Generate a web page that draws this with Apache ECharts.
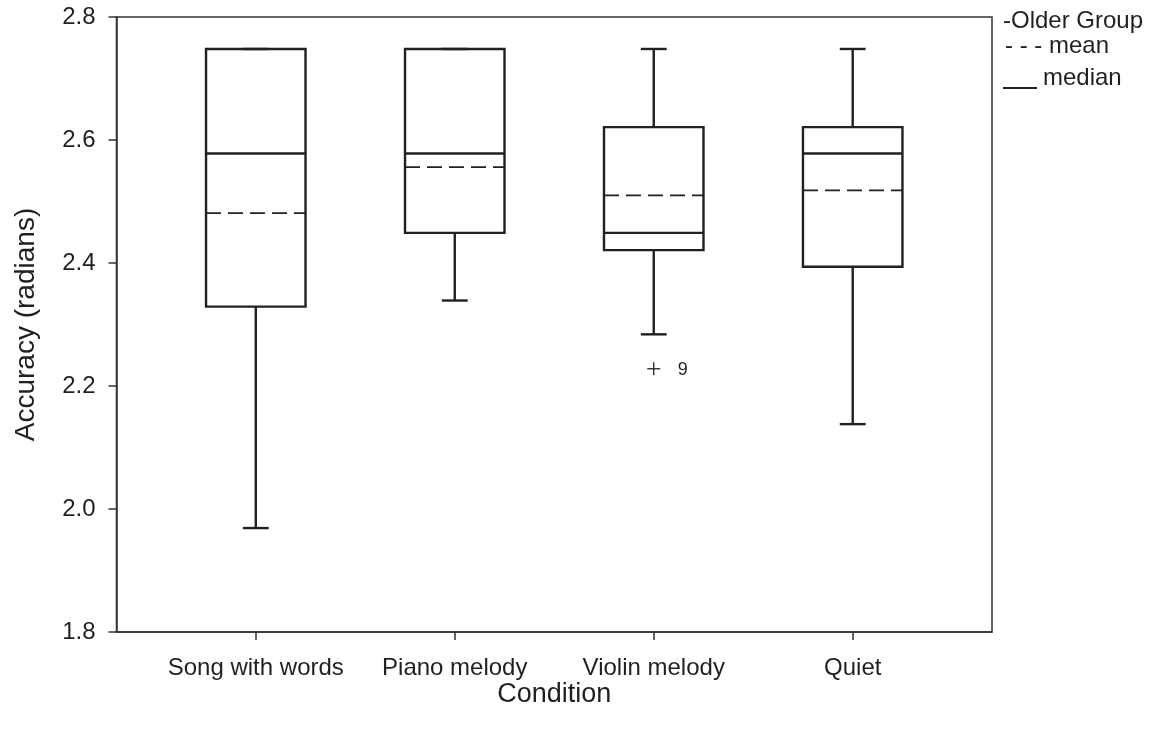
<!DOCTYPE html>
<html>
<head>
<meta charset="utf-8">
<script src="https://cdn.jsdelivr.net/npm/echarts@6/dist/echarts.min.js"></script>
<style>
html,body{margin:0;padding:0;background:#fff;}
#chart{width:1153px;height:736px;}
</style>
</head>
<body>
<div id="chart"></div>
<script>
// ---- data ----
const categories = ['Song with words', 'Piano melody', 'Violin melody', 'Quiet'];
const whiskerMin = [1.969, 2.339, 2.284, 2.138];
const q1 = [2.329, 2.449, 2.421, 2.394];
const median = [2.578, 2.578, 2.449, 2.578];
const q3 = [2.748, 2.748, 2.621, 2.621];
const whiskerMax = [2.748, 2.748, 2.748, 2.748];
const mean = [2.481, 2.556, 2.510, 2.518];
const outliers = [[3, 2.228, '9']];
const yTicks = [1.8, 2.0, 2.2, 2.4, 2.6, 2.8];

const FONT = "'Liberation Sans', Arial, sans-serif";
const INK = '#231f20';

const boxData = categories.map((c, i) => [i + 1, whiskerMin[i], q1[i], median[i], q3[i], whiskerMax[i], mean[i]]);

const chart = echarts.init(document.getElementById('chart'), null, {renderer: 'canvas'});

function renderBox(params, api) {
  const x = api.value(0);
  const vMin = api.value(1), vQ1 = api.value(2), vMed = api.value(3), vQ3 = api.value(4), vMax = api.value(5), vMean = api.value(6);
  const hw = api.size([0.25, 0])[0];
  const cw = api.size([0.065, 0])[0];
  const c = v => api.coord([x, v]);
  const pMin = c(vMin), pQ1 = c(vQ1), pMed = c(vMed), pQ3 = c(vQ3), pMax = c(vMax), pMean = c(vMean);
  const cx = pMin[0];
  const solid = {stroke: INK, lineWidth: 2.4, fill: null};
  const children = [];
  // whiskers
  children.push({type: 'line', shape: {x1: cx, y1: pQ1[1], x2: cx, y2: pMin[1]}, style: solid});
  children.push({type: 'line', shape: {x1: cx - cw, y1: pMin[1], x2: cx + cw, y2: pMin[1]}, style: solid});
  children.push({type: 'line', shape: {x1: cx, y1: pQ3[1], x2: cx, y2: pMax[1]}, style: solid});
  children.push({type: 'line', shape: {x1: cx - cw, y1: pMax[1], x2: cx + cw, y2: pMax[1]}, style: solid});
  // box
  children.push({type: 'rect', shape: {x: cx - hw, y: pQ3[1], width: 2 * hw, height: pQ1[1] - pQ3[1]}, style: {stroke: INK, lineWidth: 2.4, fill: null}});
  // median
  children.push({type: 'line', shape: {x1: cx - hw, y1: pMed[1], x2: cx + hw, y2: pMed[1]}, style: solid});
  // mean dashed
  children.push({type: 'line', shape: {x1: cx - hw, y1: pMean[1], x2: cx + hw, y2: pMean[1]}, style: {stroke: INK, lineWidth: 1.8, lineDash: [15, 7]}});
  return {type: 'group', children: children};
}

function renderOutlier(params, api) {
  const p = api.coord([api.value(0), api.value(1)]);
  const a = 6.5;
  return {type: 'group', children: [
    {type: 'line', shape: {x1: p[0] - a, y1: p[1], x2: p[0] + a, y2: p[1]}, style: {stroke: INK, lineWidth: 1.3}},
    {type: 'line', shape: {x1: p[0], y1: p[1] - a, x2: p[0], y2: p[1] + a}, style: {stroke: INK, lineWidth: 1.3}},
    {type: 'text', x: p[0] + 24, y: p[1] + 1, style: {text: String(outliers[params.dataIndex][2]), font: '18px ' + FONT, fill: INK, align: 'left', verticalAlign: 'middle'}}
  ]};
}

const option = {
  backgroundColor: '#fff',
  animation: false,
  grid: {left: 116.5, right: 161, top: 17, bottom: 104, show: true, borderColor: '#333', borderWidth: 1.5, backgroundColor: 'transparent'},
  xAxis: {
    type: 'value', min: 0.3, max: 4.7,
    name: 'Condition', nameLocation: 'middle', nameGap: 49, nameMoveOverlap: false,
    nameTextStyle: {fontFamily: FONT, fontSize: 27, color: INK},
    axisLine: {show: true, onZero: false, lineStyle: {color: '#333', width: 1.5}},
    axisTick: {show: true, inside: false, length: 8, customValues: [1, 2, 3, 4], lineStyle: {color: '#333', width: 1.5}},
    axisLabel: {show: true, margin: 24, customValues: [1, 2, 3, 4], fontFamily: FONT, fontSize: 24, color: INK,
      formatter: v => categories[Math.round(v) - 1] || ''},
    splitLine: {show: false}
  },
  yAxis: {
    type: 'value', min: 1.8, max: 2.8, interval: 0.2,
    name: 'Accuracy (radians)', nameLocation: 'middle', nameGap: 76, nameRotate: 90,
    nameTextStyle: {fontFamily: FONT, fontSize: 28, color: INK},
    axisLine: {show: true, onZero: false, lineStyle: {color: '#333', width: 1.5}},
    axisTick: {show: true, inside: false, length: 8, lineStyle: {color: '#333', width: 1.5}},
    axisLabel: {margin: 21, fontFamily: FONT, fontSize: 24, color: INK,
      formatter: v => { const t = yTicks.find(k => Math.abs(k - v) < 1e-6); return t === undefined ? '' : t.toFixed(1); }},
    splitLine: {show: false}
  },
  graphic: [
    {type: 'text', left: 1003, top: 9, style: {text: '-Older Group', font: '24px ' + FONT, fill: INK}},
    {type: 'text', left: 1005, top: 34, style: {text: '- - - mean', font: '24px ' + FONT, fill: INK}},
    {type: 'line', shape: {x1: 1003, y1: 88, x2: 1037, y2: 88}, style: {stroke: INK, lineWidth: 2}},
    {type: 'text', left: 1043, top: 66, style: {text: 'median', font: '24px ' + FONT, fill: INK}}
  ],
  series: [
    {type: 'custom', renderItem: renderBox, data: boxData, clip: false, encode: {x: 0, y: [1, 2, 3, 4, 5, 6]}},
    {type: 'custom', renderItem: renderOutlier, data: outliers.map(o => [o[0], o[1]]), clip: false, encode: {x: 0, y: 1}}
  ]
};
chart.setOption(option);
</script>
</body>
</html>
